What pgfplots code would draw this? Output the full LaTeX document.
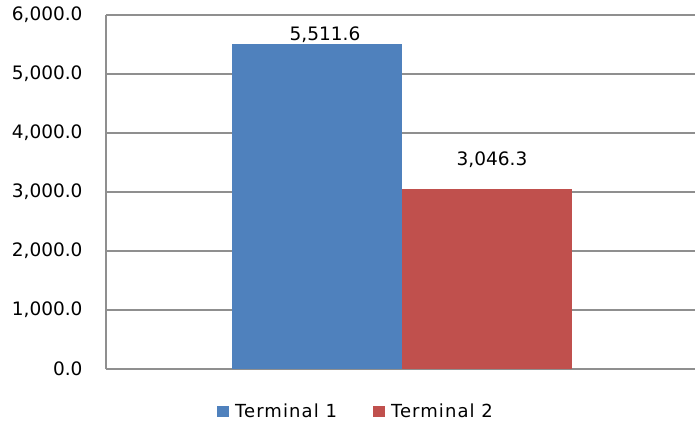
\documentclass[border=0pt]{standalone}
\usepackage{fontspec}
\setmainfont{DejaVu Sans}
\usepackage{pgfplots}
\pgfplotsset{compat=1.18}
\definecolor{bblue}{HTML}{4F81BD}
\definecolor{bred}{HTML}{C0504D}
\definecolor{gridc}{HTML}{8F8F8F}
\begin{document}
\begin{tikzpicture}
\path[use as bounding box] (0pt,0pt) rectangle (695pt,423pt);
\begin{axis}[
  at={(106pt,54pt)}, anchor=south west,
  scale only axis, width=589pt, height=354pt,
  ybar=0pt, bar width=170pt,
  xmin=-1.005, xmax=0.995,
  ymin=0, ymax=6000,
  ytick={0,1000,...,6000},
  xtick=\empty,
  axis x line=bottom, axis y line=left,
  axis line style={gridc, line width=1.2pt, -},
  ymajorgrids, grid style={gridc, line width=1.2pt},
  major tick length=0pt,
  yticklabel style={font=\fontsize{18.5}{22}\selectfont, xshift=-20pt},
  /pgf/number format/.cd, fixed, fixed zerofill, precision=1, 1000 sep={,}, assume math mode=true,
  /pgfplots/.cd,
  nodes near coords,
  every node near coord/.append style={font=\fontsize{18.5}{22}\selectfont, black},
  legend style={at={(0.4245,-0.121)}, anchor=center, draw=none, fill=none,
    legend columns=2, font=\fontsize{18}{22}\selectfont\addfontfeature{LetterSpace=6},
    /tikz/every odd column/.append style={column sep=4pt},
    /tikz/every even column/.append style={column sep=34pt}},
  legend image code/.code={\fill[#1] (0pt,-5.5pt) rectangle (12pt,5.5pt);},
]
\addplot[fill=bblue, draw=none, every node near coord/.append style={yshift=-2pt, xshift=8pt}] coordinates {(0,5511.6)};
\addplot[fill=bred, draw=none, every node near coord/.append style={yshift=18pt, xshift=5pt}] coordinates {(0,3046.3)};
\legend{Terminal 1, Terminal 2}
\end{axis}
\end{tikzpicture}
\end{document}
